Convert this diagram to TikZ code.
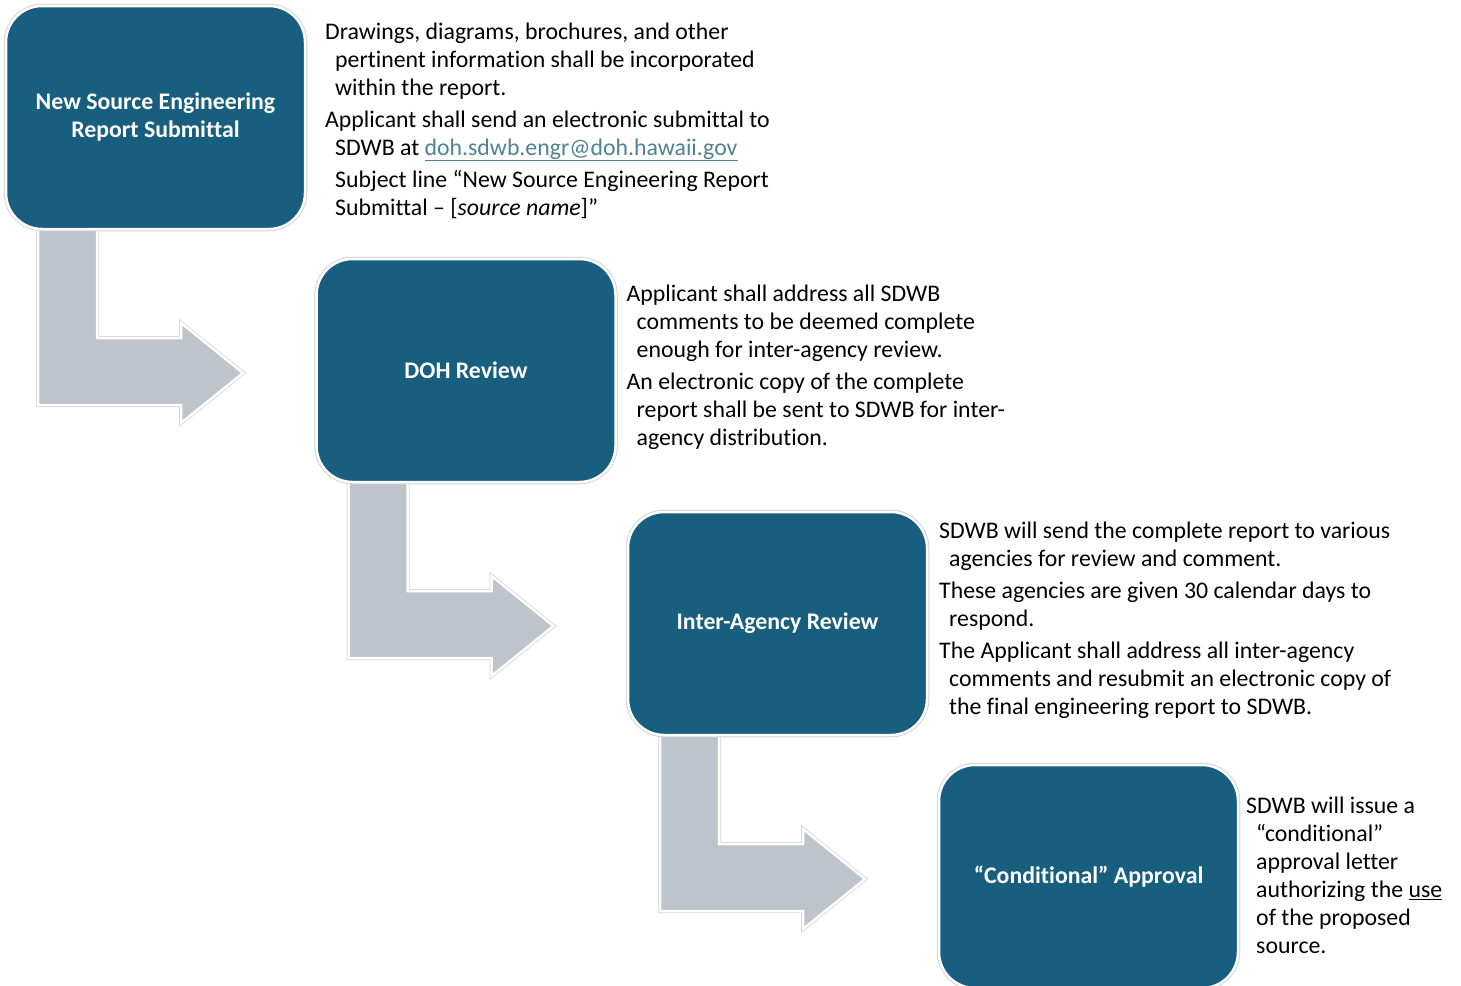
\documentclass[tikz,border=0pt]{standalone}
\usepackage{fontspec}
\setmainfont{Carlito}[Ligatures=NoCommon]
\usepackage{xcolor}
\usepackage{tikz}
\usetikzlibrary{positioning, calc, backgrounds}
\definecolor{boxblue}{HTML}{175E7F}
\definecolor{arrowgray}{HTML}{BDC4CC}
\definecolor{halo}{HTML}{D2D6DA}
\definecolor{linkblue}{HTML}{4F8294}
\newcommand{\indnt}{\hspace*{10pt}}
% bent block arrow hanging below a step box
\newcommand{\bentarrow}[1]{%
  \draw[bent] ($(#1.south west)+(32,-4)$) -- ++(59,0) -- ++(0,113) -- ++(84,0)
    -- ++(0,-15) -- ++(62,50) -- ++(-62,50) -- ++(0,-18) -- ++(-143,0) -- cycle;}

\begin{document}
\begin{tikzpicture}[
    x=1pt, y=-1pt,
    stepbox/.style={rectangle, rounded corners=36pt, fill=boxblue, draw=white, line width=2.5pt,
      preaction={draw=halo, line width=4.5pt}, minimum width=299pt, minimum height=223pt,
      outer sep=0pt, text=white, align=center, font=\fontsize{23.8}{28}\selectfont\bfseries},
    bent/.style={fill=arrowgray, draw=white, line width=2.5pt, line join=miter,
      preaction={draw=halo, line width=4pt}},
    note/.style={anchor=west, align=left, inner sep=0pt, font=\fontsize{23.8}{28}\selectfont},
  ]
  \useasboundingbox (0,0) rectangle (1461,985);
  \node[stepbox] (sub)   at (155.5,117.5)  {New Source Engineering\\Report Submittal};
  \node[stepbox] (doh)   at (466,370.5)    {DOH Review};
  \node[stepbox] (inter) at (777.5,623.5)  {Inter-Agency Review};
  \node[stepbox] (appr)  at (1088.5,876.5) {“Conditional” Approval};

  \node[note] (subnote) at ($(sub.east)+(20,3)$) {Drawings, diagrams, brochures, and other\\
    \indnt pertinent information shall be incorporated\\
    \indnt within the report.\\[4pt]
    Applicant shall send an electronic submittal to\\
    \indnt SDWB at {\color{linkblue}\underline{doh.sdwb.engr@doh.hawaii.gov}}\\[4pt]
    \indnt Subject line “New Source Engineering Report\\
    \indnt Submittal – [\textit{source name}]”};
  \node[note] (dohnote) at ($(doh.east)+(11,-3.5)$) {Applicant shall address all SDWB\\
    \indnt comments to be deemed complete\\
    \indnt enough for inter-agency review.\\[4pt]
    An electronic copy of the complete\\
    \indnt report shall be sent to SDWB for inter-\\
    \indnt agency distribution.};
  \node[note] (internote) at ($(inter.east)+(12,-3)$) {SDWB will send the complete report to various\\
    \indnt agencies for review and comment.\\[4pt]
    These agencies are given 30 calendar days to\\
    \indnt respond.\\[4pt]
    The Applicant shall address all inter-agency\\
    \indnt comments and resubmit an electronic copy of\\
    \indnt the final engineering report to SDWB.};
  \node[note] (apprnote) at ($(appr.east)+(8,-1)$) {SDWB will issue a\\
    \indnt “conditional”\\
    \indnt approval letter\\
    \indnt authorizing the \underline{use}\\
    \indnt of the proposed\\
    \indnt source.};

  \begin{scope}[on background layer]
    \fill[white] (0,0) rectangle (1461,985);
    \bentarrow{sub}
    \bentarrow{doh}
    \bentarrow{inter}
  \end{scope}
\end{tikzpicture}
\end{document}
